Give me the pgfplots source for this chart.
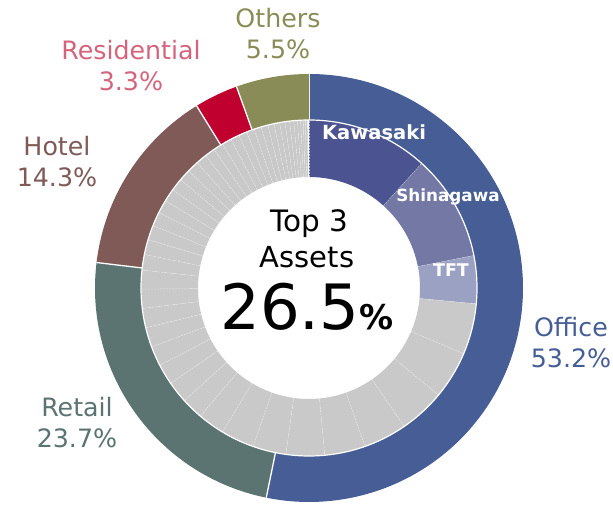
\documentclass[border=0pt]{standalone}
\usepackage{fontspec}
\setmainfont{DejaVu Sans}
\usepackage{pgfplots}
\usepackage{pgfplotstable}
\pgfplotsset{compat=1.18}

\definecolor{office}{HTML}{465E95}
\definecolor{retail}{HTML}{5B7472}
\definecolor{hotel}{HTML}{7F5A57}
\definecolor{resid}{HTML}{C0002F}
\definecolor{residtxt}{HTML}{D4647C}
\definecolor{others}{HTML}{8A8C57}
\definecolor{kawasaki}{HTML}{4B5490}
\definecolor{shinagawa}{HTML}{7378A5}
\definecolor{tft}{HTML}{9BA1C2}
\definecolor{rest}{HTML}{C9C9C9}

% outer ring: asset type share (%)
\pgfplotstableread{
name        value col
Office      53.2  office
Retail      23.7  retail
Hotel       14.3  hotel
Residential 3.3   resid
Others      5.5   others
}\outerring

% inner ring: individual assets (%), largest three highlighted
\pgfplotstableread{
value col
11.7 kawasaki
10.2 shinagawa
4.6  tft
4.9  rest
4.6  rest
4.4  rest
4.2  rest
3.9  rest
3.7  rest
3.2  rest
3.2  rest
2.6  rest
2.1  rest
2.1  rest
2.0  rest
1.9  rest
1.9  rest
1.85 rest
1.85 rest
1.8  rest
1.5  rest
1.45 rest
1.4  rest
1.35 rest
1.3  rest
1.25 rest
1.2  rest
1.15 rest
1.1  rest
1.05 rest
1.0  rest
0.95 rest
0.9  rest
0.85 rest
0.8  rest
0.75 rest
0.7  rest
0.65 rest
0.6  rest
0.55 rest
0.5  rest
0.45 rest
0.4  rest
0.35 rest
0.3  rest
0.25 rest
0.2  rest
0.2  rest
}\innerring

% ring segments: #1 table, #2 outer r, #3 inner r, #4 border style
\newcommand\ringsegments[4]{%
  \pgfplotstablegetrowsof{#1}\pgfmathtruncatemacro\nrows{\pgfplotsretval-1}%
  \xdef\acc{0}%
  \foreach \i in {0,...,\nrows}{%
    \pgfplotstablegetelem{\i}{value}\of#1\let\v\pgfplotsretval
    \pgfplotstablegetelem{\i}{col}\of#1\let\c\pgfplotsretval
    \pgfmathsetmacro\aa{\acc*3.6}%
    \pgfmathsetmacro\bb{(\acc+\v)*3.6}%
    \fill[\c] ({#2*sin(\aa)},{#2*cos(\aa)})
      arc[start angle={90-\aa}, end angle={90-\bb}, radius=#2pt]
      -- ({#3*sin(\bb)},{#3*cos(\bb)})
      arc[start angle={90-\bb}, end angle={90-\aa}, radius=#3pt] -- cycle;
    \draw[#4] ({#3*sin(\aa)},{#3*cos(\aa)}) -- ({#2*sin(\aa)},{#2*cos(\aa)});
    \pgfmathsetmacro\tmp{\acc+\v}\xdef\acc{\tmp}%
  }%
}

\begin{document}
\begin{tikzpicture}
\begin{axis}[
  x=1pt, y=1pt,
  xmin=-309, xmax=304, ymin=-217, ymax=288,
  hide axis, clip=false,
]
\path (-309,-217) rectangle (304,288);
\pgfplotsextra{
  \ringsegments{\innerring}{168}{111}{white, opacity=0.6, line width=0.35pt, dash pattern=on 2pt off 1pt}
  \ringsegments{\outerring}{214}{168}{white, line width=1.3pt}
  \draw[white, line width=1.2pt] (0,0) circle[radius=168pt];
}
\node[font=\fontsize{29.5}{30}\selectfont, anchor=base] at (0,56) {Top 3};
\node[font=\fontsize{29}{30}\selectfont, anchor=base] at (-2,20) {Assets};
\node[anchor=base, inner sep=0pt] at (-2,-42)
  {\fontsize{62.5}{64}\selectfont 26.5\fontsize{34}{36}\selectfont\bfseries\%};
\node[text=white, font=\fontsize{19.5}{20}\selectfont\bfseries] at (65,156) {Kawasaki};
\node[text=white, font=\fontsize{16.8}{18}\selectfont\bfseries] at (139,91) {Shinagawa};
\node[text=white, font=\fontsize{17.5}{18}\selectfont\bfseries] at (142,18) {TFT};
\tikzset{lab/.style={align=center, font=\fontsize{25.3}{31}\selectfont, inner sep=0pt}}
\node[lab, text=others] at (-31,254) {Others\\5.5\%};
\node[lab, text=residtxt] at (-178,222) {Residential\\3.3\%};
\node[lab, text=hotel] at (-252,126) {Hotel\\14.3\%};
\node[lab, text=retail] at (-232,-135) {Retail\\23.7\%};
\node[lab, text=office] at (262,-55) {Office\\53.2\%};
\end{axis}
\end{tikzpicture}
\end{document}
